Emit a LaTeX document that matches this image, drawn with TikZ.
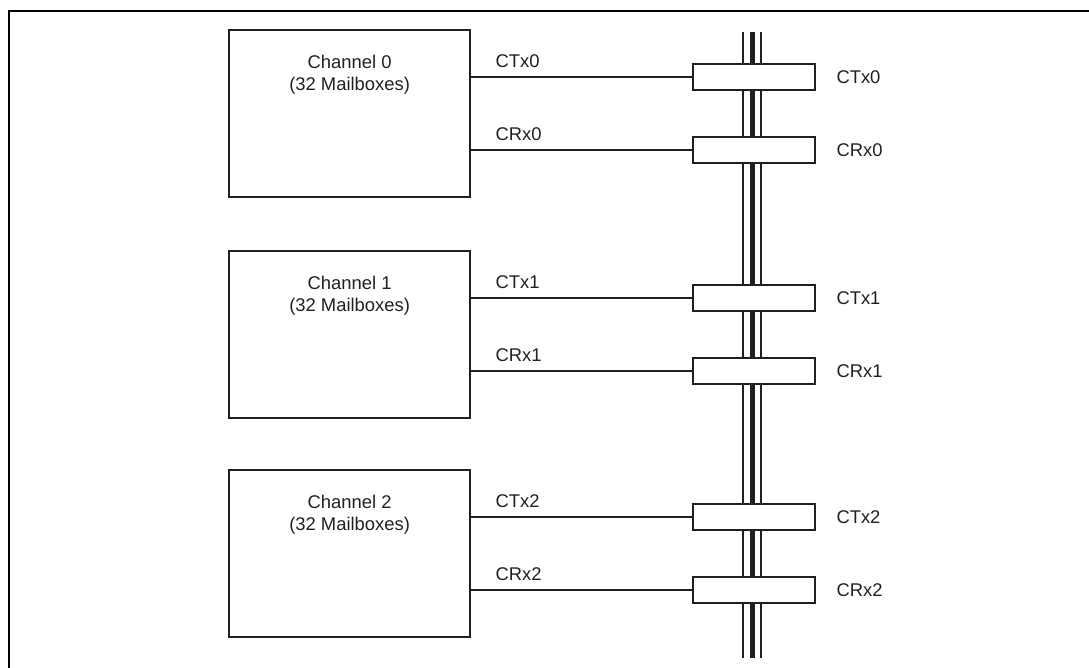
\documentclass[tikz,border=0pt]{standalone}
\usepackage{fontspec}
\setmainfont{Liberation Sans}
\usetikzlibrary{positioning,calc}
\definecolor{Ink}{HTML}{231F20}
\tikzset{
  chanbox/.style={draw=Ink,line width=1.1pt,minimum width=120.5pt,minimum height=83.5pt,inner sep=0pt},
  tapbox/.style={draw=Ink,fill=white,line width=1.1pt,minimum width=61pt,minimum height=13pt,inner sep=0pt},
  sigline/.style={draw=Ink,line width=1.1pt},
  buswire/.style={draw=Ink,line width=0.8pt},
  buscore/.style={draw=Ink,line width=2.5pt},
  txt/.style={font=\fontsize{9.2}{11}\selectfont,text=Ink,inner sep=0pt}
}

\begin{document}
\begin{tikzpicture}[x=0.5pt,y=-0.5pt]
  \useasboundingbox (0,0) rectangle (1089,668);
  % frame
  \draw[black,line width=1.4pt] (1089,11) -- (9,11) -- (9,668);

  % bus
  \coordinate (bustop) at (752,32);
  \coordinate (busbot) at (752,658);
  \draw[buswire] ([xshift=-4.5pt]bustop) -- ([xshift=-4.5pt]busbot);
  \draw[buscore] (bustop) -- (busbot);
  \draw[buswire] ([xshift=4.5pt]bustop) -- ([xshift=4.5pt]busbot);

  % channels
  \foreach \i/\t in {0/29,1/250,2/469} {
    \node[chanbox,anchor=north west] (ch\i) at (228,\t) {};
    \node[txt,align=center,below=13pt of ch\i.north] (chl\i) {Channel \i\\(32 Mailboxes)};
    \node[tapbox] (tx\i) at (754,\t+48) {};
    \node[tapbox] (rx\i) at (754,\t+121) {};
    \draw[sigline] (tx\i.west -| ch\i.east) -- (tx\i.west);
    \draw[sigline] (rx\i.west -| ch\i.east) -- (rx\i.west);
    \node[txt,anchor=base west] (txa\i) at ($(tx\i.west -| ch\i.east)+(12pt,4.5pt)$) {CTx\i};
    \node[txt,anchor=base west] (rxa\i) at ($(rx\i.west -| ch\i.east)+(12pt,4.5pt)$) {CRx\i};
    \node[txt,right=10pt of tx\i] (txb\i) {CTx\i};
    \node[txt,right=10pt of rx\i] (rxb\i) {CRx\i};
  }
\end{tikzpicture}
\end{document}
